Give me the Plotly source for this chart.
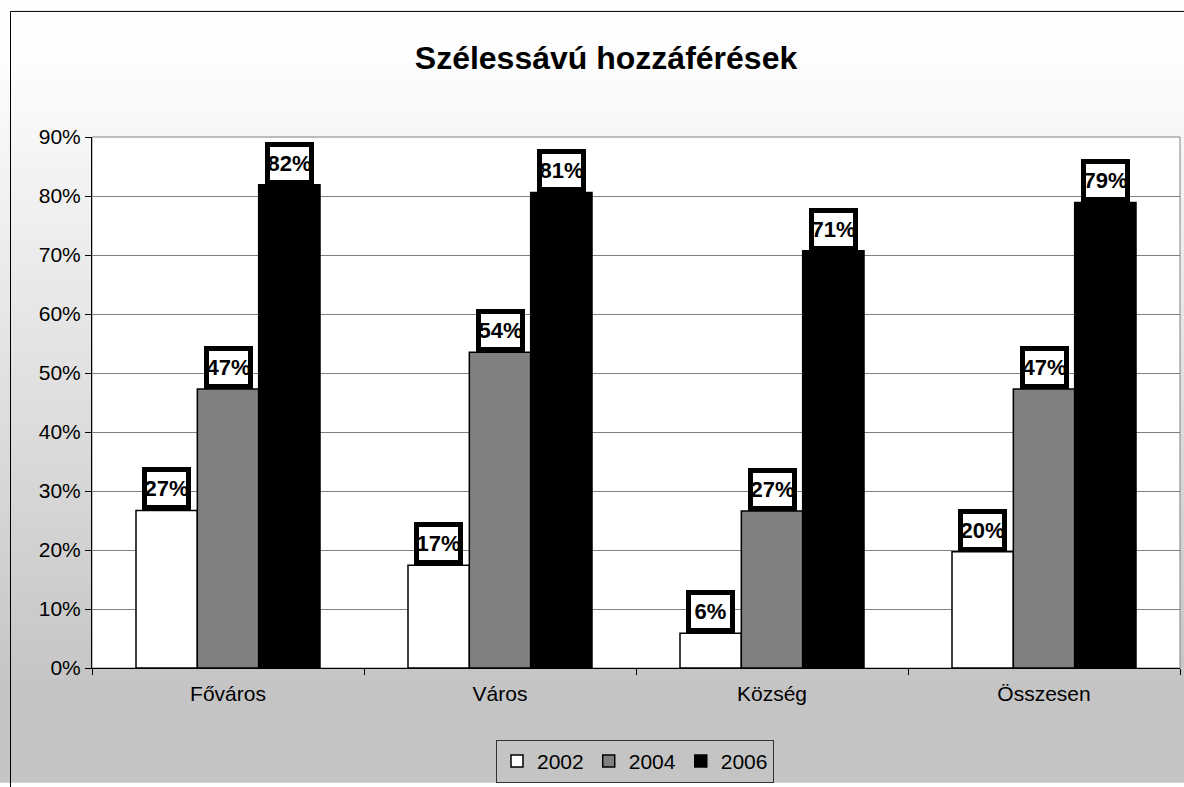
import plotly.graph_objects as go

categories = ["Főváros", "Város", "Község", "Összesen"]
years = ["2002", "2004", "2006"]
values_2002 = [0.267, 0.174, 0.059, 0.197]
values_2004 = [0.473, 0.535, 0.266, 0.473]
values_2006 = [0.819, 0.806, 0.707, 0.789]
series = [values_2002, values_2004, values_2006]
colors = ["#ffffff", "#808080", "#000000"]
title_text = "Szélessávú hozzáférések"

W, H = 1184, 787
ML, MR, MT, MB = 92, 4, 137, 115
PW, PH = W - ML - MR, H - MT - MB
BARGAP = 0.3235
FONT = "Liberation Sans, Arial, sans-serif"


def px_x(px):
    return (px - ML) / PW


def px_y(py):
    return (H - MB - py) / PH


fig = go.Figure()
for name, vals, col in zip(years, series, colors):
    fig.add_trace(go.Bar(
        x=categories, y=vals, name=name,
        marker=dict(color=col, line=dict(color="#000000", width=1.5)),
        hoverinfo="skip",
    ))

# data label boxes
annotations = []
nser = len(series)
bw = (1 - BARGAP) / nser
for si, vals in enumerate(series):
    for ci, v in enumerate(vals):
        annotations.append(dict(
            x=ci + (si - (nser - 1) / 2) * bw, y=v, xref="x", yref="y",
            text="<b>%d%%</b>" % round(v * 100), showarrow=False,
            xanchor="center", yanchor="bottom",
            width=39, height=33, borderpad=0, borderwidth=5,
            bordercolor="#000000", bgcolor="#ffffff",
            font=dict(family=FONT, size=22, color="#000000"),
        ))

shapes = []
# gradient background bands
nb = 90
for i in range(nb):
    y0p = i * H / nb
    y1p = (i + 1) * H / nb
    ym = (y0p + y1p) / 2
    t = max(0.0, min(1.0, (ym - 50) / (700 - 50)))
    c = int(round(254 - 58 * t))
    shapes.append(dict(type="rect", xref="paper", yref="paper",
                       x0=px_x(-5), x1=px_x(W + 5), y0=px_y(y1p + 0.5), y1=px_y(y0p - 0.5),
                       fillcolor="rgb(%d,%d,%d)" % (c, c, c), line=dict(width=0), layer="below"))
# white plot area with grey border
shapes.append(dict(type="rect", xref="paper", yref="paper", x0=0, x1=1, y0=0, y1=1,
                   fillcolor="#ffffff", line=dict(color="#808080", width=1), layer="below"))
# outer chart border
shapes.append(dict(type="rect", xref="paper", yref="paper",
                   x0=px_x(10.5), x1=px_x(W + 20), y0=px_y(H + 20), y1=px_y(10.5),
                   fillcolor="rgba(0,0,0,0)", line=dict(color="#000000", width=1), layer="above"))

fig.update_layout(
    width=W, height=H, autosize=False,
    margin=dict(l=ML, r=MR, t=MT, b=MB),
    paper_bgcolor="#ffffff", plot_bgcolor="#ffffff",
    barmode="group", bargap=BARGAP, bargroupgap=0,
    font=dict(family=FONT, size=20, color="#000000"),
    title=dict(text="<b>" + title_text + "</b>", x=606 / W, xanchor="center",
               y=1 - 58 / H, yanchor="middle", yref="container",
               font=dict(family=FONT, size=32, color="#000000")),
    xaxis=dict(type="category", showline=True, linecolor="#000000", linewidth=1,
               ticks="outside", tickson="boundaries", ticklen=6, tickcolor="#000000",
               tickfont=dict(family=FONT, size=21, color="#000000"),
               ticklabelstandoff=7, showgrid=False),
    yaxis=dict(range=[0, 0.9], dtick=0.1, tickformat=".0%", showgrid=True,
               gridcolor="#808080", gridwidth=1, zeroline=False,
               showline=True, linecolor="#000000", linewidth=1,
               ticks="outside", ticklen=6, tickcolor="#000000",
               tickfont=dict(family=FONT, size=21, color="#000000")),
    legend=dict(orientation="h", x=px_x(635), y=px_y(766), xanchor="center", yanchor="middle",
                bgcolor="rgba(0,0,0,0)", bordercolor="#333333", borderwidth=1,
                font=dict(family=FONT, size=21, color="#000000"),
                itemwidth=30,
                itemclick=False, itemdoubleclick=False, traceorder="normal"),
    showlegend=True,
    annotations=annotations,
    shapes=shapes,
)

fig.write_html("out.html", config={"displayModeBar": False})
